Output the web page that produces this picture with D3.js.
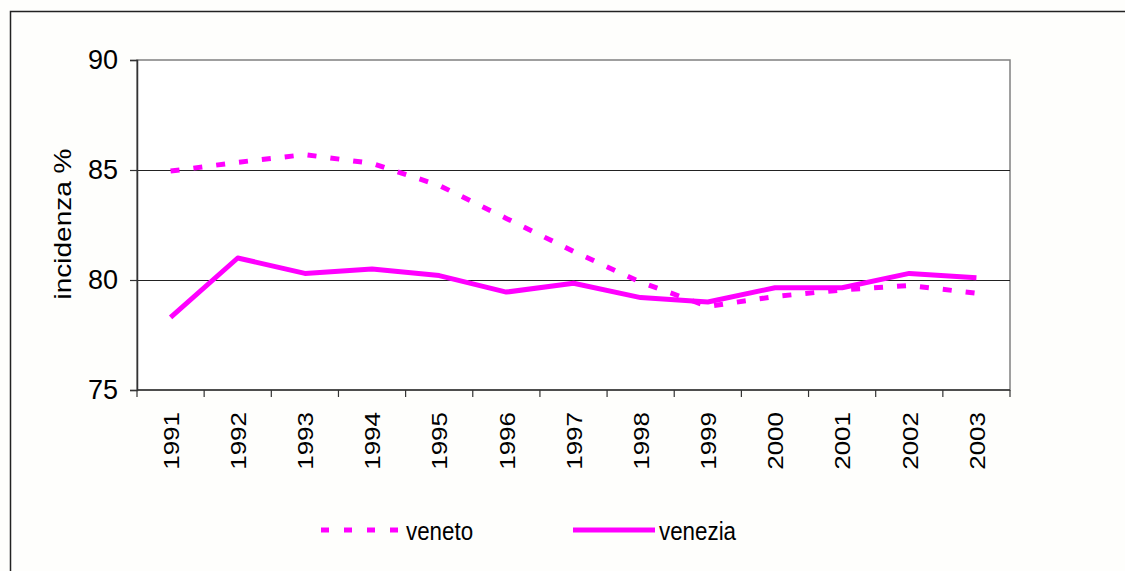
<!DOCTYPE html>
<html>
<head>
<meta charset="utf-8">
<script src="https://cdn.jsdelivr.net/npm/d3@7"></script>
<style>
  html, body { margin: 0; padding: 0; background: #fefefc; }
  svg { display: block; font-family: "Liberation Sans", Arial, sans-serif; }
</style>
</head>
<body>
<div id="chart"></div>
<script>
// anni e valori (incidenza %)
const anni = ['1991', '1992', '1993', '1994', '1995', '1996', '1997', '1998', '1999', '2000', '2001', '2002', '2003'];
const veneto = [84.95, 85.35, 85.7, 85.3, 84.3, 82.8, 81.3, 79.9, 78.8, 79.25, 79.55, 79.75, 79.4];
const venezia = [78.3, 81.0, 80.3, 80.5, 80.2, 79.45, 79.85, 79.2, 79.0, 79.65, 79.65, 80.3, 80.1];
const yTicks = [75, 80, 85, 90];

const W = 1125, H = 571;
const m = { left: 137, right: 1010, top: 60, bottom: 390 };

const svg = d3.select('#chart').append('svg')
    .attr('width', W)
    .attr('height', H);

// sfondo e cornice esterna
svg.append('rect').attr('width', W).attr('height', H).attr('fill', '#fefefc');
svg.append('path')
    .attr('d', `M10.5,${H + 5} L10.5,11.5 L${W + 5},11.5`)
    .attr('fill', 'none')
    .attr('stroke', '#222')
    .attr('stroke-width', 1.5);

const x = d3.scaleBand().domain(anni).range([m.left, m.right]);
const y = d3.scaleLinear().domain([75, 90]).range([m.bottom, m.top]);

// bordo area grafico
svg.append('rect')
    .attr('x', m.left).attr('y', m.top)
    .attr('width', m.right - m.left).attr('height', m.bottom - m.top)
    .attr('fill', '#ffffff')
    .attr('stroke', '#808080')
    .attr('stroke-width', 1.5);

// griglia orizzontale
svg.selectAll('line.grid')
    .data(yTicks.filter(d => d > 75 && d < 90))
    .enter()
    .append('line')
    .attr('class', 'grid')
    .attr('x1', m.left).attr('x2', m.right)
    .attr('y1', d => Math.round(y(d)) + 0.5)
    .attr('y2', d => Math.round(y(d)) + 0.5)
    .attr('stroke', '#222')
    .attr('stroke-width', 1);

// asse y
const yAxis = svg.append('g')
    .attr('transform', `translate(${m.left},0)`)
    .call(d3.axisLeft(y).tickValues(yTicks).tickSize(7).tickPadding(12));
yAxis.select('.domain').attr('stroke', '#333').attr('stroke-width', 1.5);
yAxis.selectAll('.tick line').attr('stroke', '#333').attr('stroke-width', 1.2);
yAxis.selectAll('.tick text')
    .attr('font-size', 27)
    .attr('fill', '#000')
    .style('font-family', '"Liberation Sans", Arial, sans-serif');

// asse x con tacche sui bordi delle categorie
const xAxisG = svg.append('g').attr('transform', `translate(0,${m.bottom})`);
xAxisG.append('line')
    .attr('x1', m.left).attr('x2', m.right)
    .attr('y1', 0).attr('y2', 0)
    .attr('stroke', '#333').attr('stroke-width', 1.5);
const bordi = anni.map(a => x(a)).concat([m.right]);
xAxisG.selectAll('line.tk')
    .data(bordi)
    .enter()
    .append('line')
    .attr('class', 'tk')
    .attr('x1', d => d).attr('x2', d => d)
    .attr('y1', 0).attr('y2', 7)
    .attr('stroke', '#333').attr('stroke-width', 1.2);
xAxisG.selectAll('text')
    .data(anni)
    .enter()
    .append('text')
    .attr('transform', d => `translate(${x(d) + x.bandwidth() / 2},22) rotate(-90) scale(1,0.88)`)
    .attr('text-anchor', 'end')
    .attr('dy', '0.36em')
    .attr('font-size', 26)
    .attr('fill', '#000')
    .text(d => d);

// titolo asse y
svg.append('text')
    .attr('transform', 'translate(62,224) rotate(-90) scale(1,0.88)')
    .attr('text-anchor', 'middle')
    .attr('dy', '0.36em')
    .attr('font-size', 28)
    .attr('fill', '#000')
    .text('incidenza %');

// linee
const line = d3.line()
    .x((d, i) => x(anni[i]) + x.bandwidth() / 2)
    .y(d => y(d));

svg.append('path')
    .datum(veneto)
    .attr('d', line)
    .attr('fill', 'none')
    .attr('stroke', '#ff00ff')
    .attr('stroke-width', 5)
    .attr('stroke-dasharray', '9,14');

svg.append('path')
    .datum(venezia)
    .attr('d', line)
    .attr('fill', 'none')
    .attr('stroke', '#ff00ff')
    .attr('stroke-width', 5)
    .attr('stroke-linejoin', 'round');

// legenda
const legenda = [
    { nome: 'veneto', x1: 321, x2: 399, dash: '8,15', tx: 406 },
    { nome: 'venezia', x1: 573, x2: 655, dash: null, tx: 659 }
];
const lg = svg.selectAll('g.leg')
    .data(legenda)
    .enter()
    .append('g')
    .attr('class', 'leg');
lg.append('line')
    .attr('x1', d => d.x1).attr('x2', d => d.x2)
    .attr('y1', 530).attr('y2', 530)
    .attr('stroke', '#ff00ff')
    .attr('stroke-width', 5)
    .attr('stroke-dasharray', d => d.dash);
lg.append('text')
    .attr('transform', d => `translate(${d.tx},531) scale(0.86,1)`)
    .attr('dy', '0.36em')
    .attr('font-size', 26)
    .attr('fill', '#000')
    .text(d => d.nome);
</script>
</body>
</html>
